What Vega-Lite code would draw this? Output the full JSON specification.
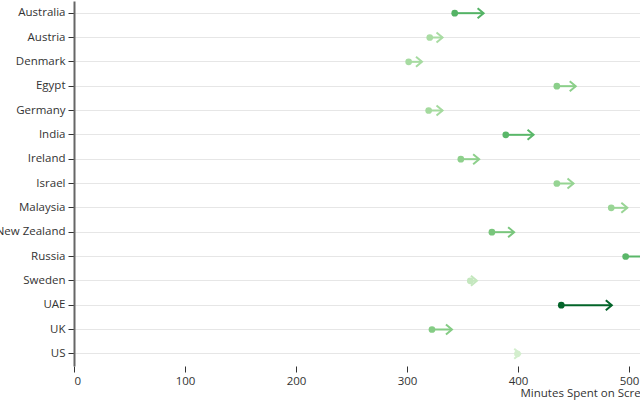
{
  "$schema": "https://vega.github.io/schema/vega-lite/v6.json",
  "autosize": "none",
  "padding": {"left": 74, "top": 1, "right": 0, "bottom": 35},
  "width": 666,
  "height": 365,
  "config": {
    "view": {"stroke": null},
    "font": "Open Sans",
    "axis": {"labelFont": "Open Sans", "titleFont": "Open Sans"}
  },
  "data": {
    "values": [
      {"country": "Australia", "start": 343, "end": 369, "change": 26},
      {"country": "Austria", "start": 320.5, "end": 332, "change": 11.5},
      {"country": "Denmark", "start": 301.5, "end": 313.5, "change": 12},
      {"country": "Egypt", "start": 435, "end": 452, "change": 17},
      {"country": "Germany", "start": 319.5, "end": 332, "change": 12.5},
      {"country": "India", "start": 389, "end": 414, "change": 25},
      {"country": "Ireland", "start": 348.5, "end": 365, "change": 16.5},
      {"country": "Israel", "start": 435, "end": 450, "change": 15},
      {"country": "Malaysia", "start": 484, "end": 498.5, "change": 14.5},
      {"country": "New Zealand", "start": 376.5, "end": 396.5, "change": 20},
      {"country": "Russia", "start": 497, "end": 522, "change": 25},
      {"country": "Sweden", "start": 357, "end": 363, "change": 6},
      {"country": "UAE", "start": 439, "end": 484.5, "change": 45.5},
      {"country": "UK", "start": 322.5, "end": 340.5, "change": 18},
      {"country": "US", "start": 399.5, "end": 402, "change": 2.5}
    ]
  },
  "encoding": {
    "y": {
      "field": "country",
      "type": "nominal",
      "scale": {"paddingInner": 0, "paddingOuter": 0},
      "axis": {
        "title": null,
        "grid": true,
        "gridColor": "#e6e6e6",
        "gridWidth": 1,
        "domainColor": "#666666",
        "domainWidth": 2,
        "tickColor": "#333333",
        "tickSize": 6,
        "labelPadding": 3,
        "labelFontSize": 11.5,
        "labelColor": "#333333"
      }
    },
    "color": {
      "field": "change",
      "type": "quantitative",
      "scale": {"scheme": "greens", "domain": [2.5, 45.5]},
      "legend": null
    }
  },
  "layer": [
    {
      "mark": {"type": "rule", "strokeWidth": 2},
      "encoding": {
        "x": {
          "field": "start",
          "type": "quantitative",
          "scale": {"domain": [0, 600], "nice": false},
          "axis": {
            "values": [0, 100, 200, 300, 400, 500, 600],
            "grid": false,
            "domain": false,
            "tickColor": "#333333",
            "tickSize": 6,
            "labelPadding": 3,
            "labelFontSize": 11.5,
            "labelColor": "#333333",
            "title": "Minutes Spent on Screens",
            "titleFontWeight": "normal",
            "titleFontSize": 11.5,
            "titleColor": "#333333",
            "titleX": 446,
            "titleY": 21,
            "titleAlign": "left",
            "titleBaseline": "top"
          }
        },
        "x2": {"field": "end"}
      }
    },
    {
      "mark": {"type": "point", "filled": true, "size": 45, "opacity": 1},
      "encoding": {
        "x": {"field": "start", "type": "quantitative"}
      }
    },
    {
      "mark": {
        "type": "point",
        "filled": false,
        "shape": "M-1.2,-1L0,0L-1.2,1",
        "size": 100,
        "strokeWidth": 2,
        "opacity": 1
      },
      "encoding": {
        "x": {"field": "end", "type": "quantitative"}
      }
    }
  ]
}
